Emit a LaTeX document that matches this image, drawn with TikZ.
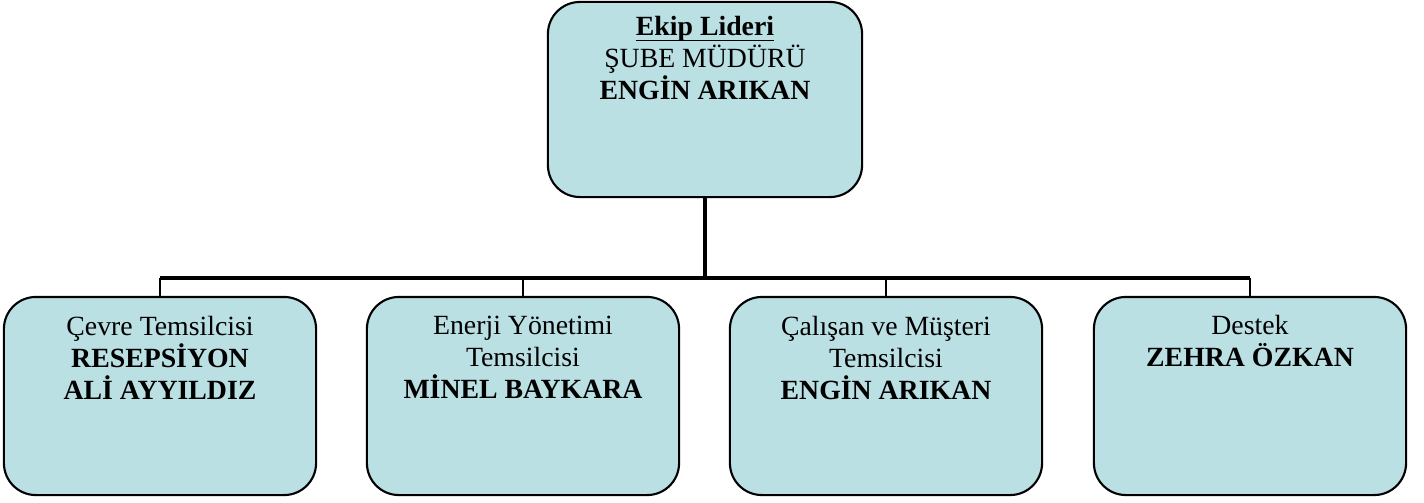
\documentclass[tikz,border=0pt]{standalone}
\usepackage{fontspec}
\setmainfont{Liberation Serif}
\usetikzlibrary{calc}
\definecolor{kutumavi}{RGB}{187,224,227}
\tikzset{
  kutu/.style={draw, fill=kutumavi, rounded corners=0.32cm, line width=0.6pt,
    minimum width=3.12cm, minimum height=1.98cm, inner sep=0pt},
  yazi/.style={anchor=north, align=center, inner sep=0pt}
}
\begin{document}
\begin{tikzpicture}[x=0.01cm, y=-0.01cm, font=\fontsize{7.9}{9.1}\selectfont]
      \useasboundingbox (0,0) rectangle (1424,503);

      \begin{scope}
        \node[kutu, minimum width=3.14cm, minimum height=1.95cm] (lider) at (705,99.5) {};
        \node[kutu] (cevre) at (160,396) {};
        \node[kutu] (enerji) at (523,396) {};
        \node[kutu] (calisan) at (886,396) {};
        \node[kutu] (destek) at (1250,396) {};
      \end{scope}

      \node[yazi] (liderYazi) at ($(lider.north)+(0,15)$) {\underline{\raisebox{0pt}[\height][0pt]{\textbf{Ekip Lideri}}}\\ŞUBE MÜDÜRÜ\\\textbf{ENGİN ARIKAN}};
      \node[yazi] (cevreYazi) at ($(cevre.north)+(0,20)$) {Çevre Temsilcisi\\\textbf{RESEPSİYON}\\\textbf{ALİ AYYILDIZ}};
      \node[yazi] (enerjiYazi) at ($(enerji.north)+(0,20)$) {Enerji Yönetimi\\Temsilcisi\\\textbf{MİNEL BAYKARA}};
      \node[yazi] (calisanYazi) at ($(calisan.north)+(0,20)$) {Çalışan ve Müşteri\\Temsilcisi\\\textbf{ENGİN ARIKAN}};
      \node[yazi] (destekYazi) at ($(destek.north)+(0,19)$) {Destek\\\textbf{ZEHRA ÖZKAN}};

      \coordinate (ayrim) at (705,278);
      \draw[line width=1.2pt] (lider.south) -- (ayrim);
      \draw[line width=1pt] (cevre.north |- ayrim) -- (destek.north |- ayrim);
      \foreach \k in {cevre, enerji, calisan, destek}
        \draw[line width=0.8pt] (\k.north |- ayrim) -- (\k.north);
    \end{tikzpicture}
\end{document}
